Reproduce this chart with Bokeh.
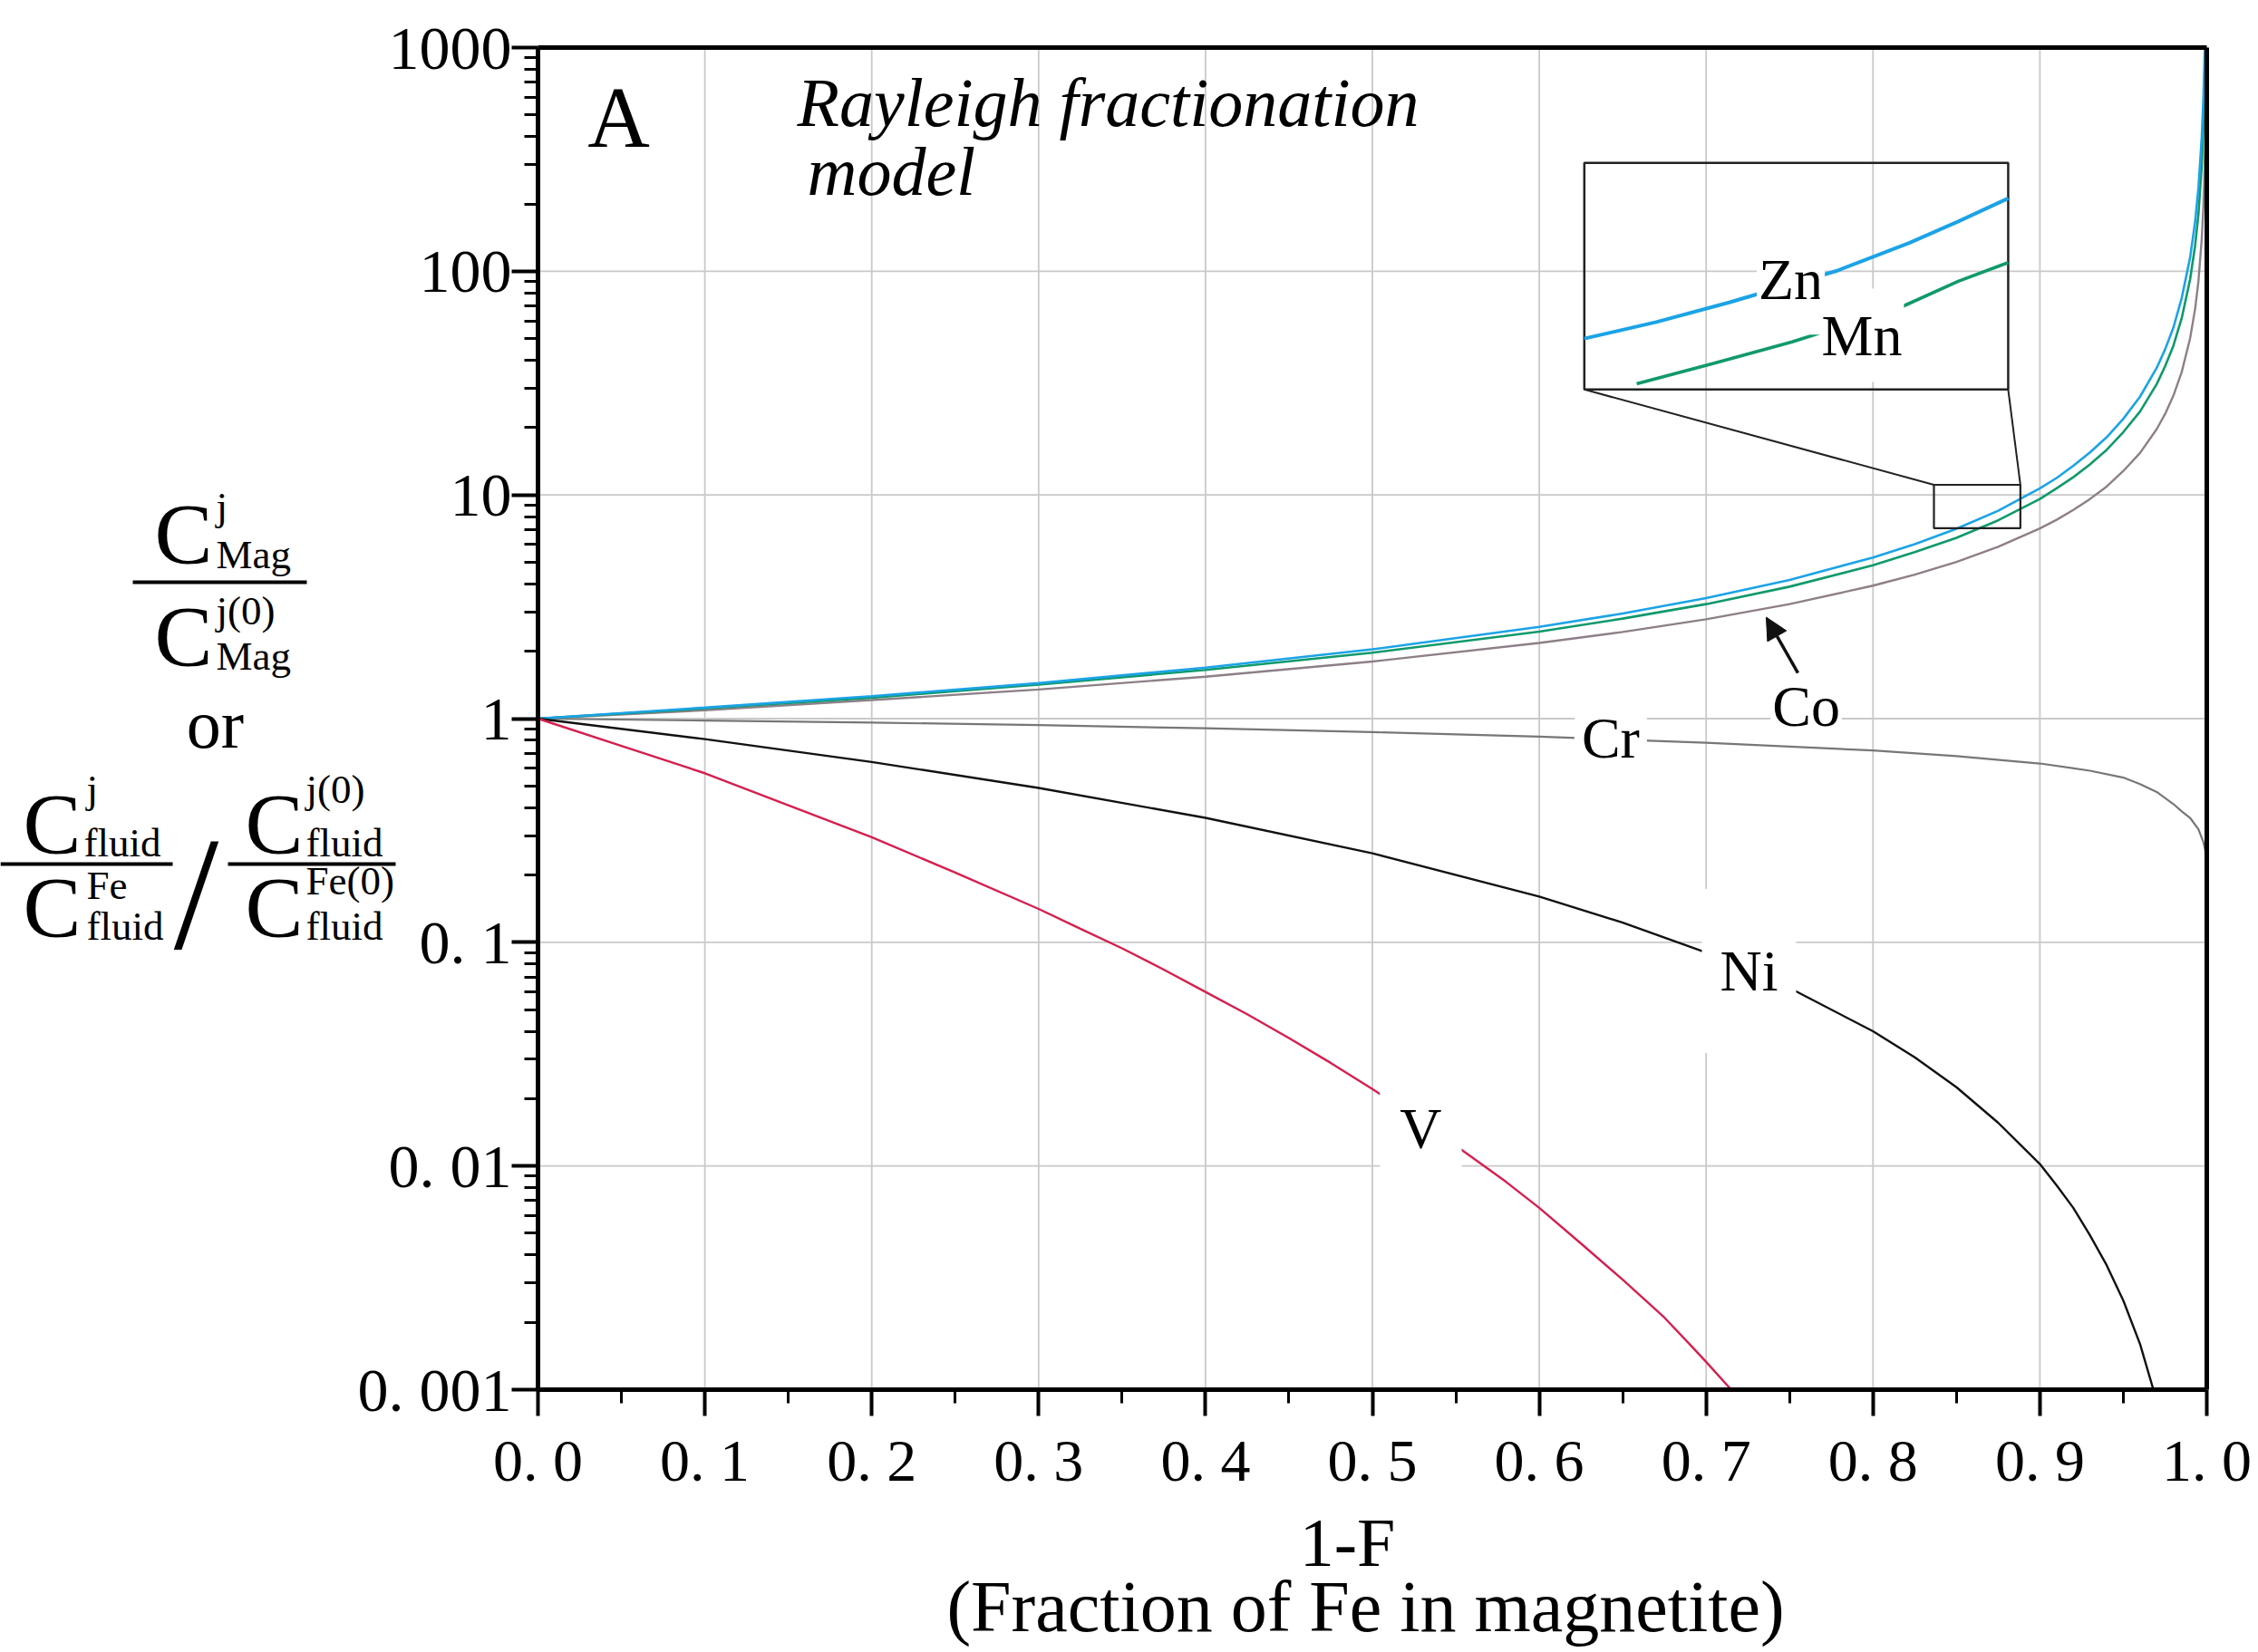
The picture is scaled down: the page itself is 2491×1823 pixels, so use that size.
import math
from bokeh.plotting import figure
from bokeh.models import (FixedTicker, Range1d, LogScale, Label, Arrow, NormalHead,
                          BoxAnnotation, LinearAxis, LogAxis)
from bokeh.embed import file_html
from bokeh.resources import INLINE

# ---------------- data ----------------
X_ZN = [0.0, 0.1, 0.2, 0.3, 0.4, 0.5, 0.6, 0.65, 0.7, 0.75, 0.8, 0.825, 0.85, 0.875, 0.9,
        0.91, 0.92, 0.93, 0.94, 0.95, 0.96, 0.97, 0.975, 0.98, 0.985, 0.99, 0.993, 0.995,
        0.997, 0.998, 0.9988]
ZN = [1.0, 1.12, 1.26, 1.44, 1.69, 2.04, 2.57, 2.95, 3.46, 4.17, 5.25, 6.02, 7.06, 8.5, 10.7,
      11.9, 13.5, 15.5, 18.1, 21.9, 27.5, 37.0, 44.7, 56.0, 76.0, 115.0, 166.0, 235.0,
      400.0, 600.0, 1000.0]

X_MN = [0.0, 0.1, 0.2, 0.3, 0.4, 0.5, 0.6, 0.65, 0.7, 0.75, 0.8, 0.825, 0.85, 0.875, 0.9,
        0.91, 0.92, 0.93, 0.94, 0.95, 0.96, 0.97, 0.975, 0.98, 0.985, 0.99, 0.993, 0.995,
        0.997, 0.998, 0.9991]
MN = [1.0, 1.11, 1.24, 1.42, 1.65, 1.97, 2.45, 2.80, 3.25, 3.89, 4.85, 5.55, 6.43, 7.7, 9.6,
      10.7, 12.0, 13.7, 15.9, 19.1, 23.6, 31.3, 37.6, 46.5, 61.8, 92.0, 130.0, 180.0,
      298.0, 440.0, 1000.0]

X_CO = [0.0, 0.1, 0.2, 0.3, 0.4, 0.5, 0.6, 0.65, 0.7, 0.75, 0.8, 0.825, 0.85, 0.875, 0.9,
        0.91, 0.92, 0.93, 0.94, 0.95, 0.96, 0.97, 0.975, 0.98, 0.985, 0.99, 0.993, 0.995,
        0.997, 0.998, 0.999, 0.9995, 0.9997]
CO = [1.0, 1.09, 1.21, 1.35, 1.54, 1.80, 2.18, 2.44, 2.78, 3.25, 3.93, 4.40, 5.02, 5.86, 7.08,
      7.74, 8.56, 9.59, 10.9, 12.8, 15.4, 19.7, 23.0, 27.8, 35.5, 50.1, 67.9, 90.3,
      140.0, 197.0, 355.0, 640.0, 1000.0]

X_CR = [0.0, 0.1, 0.2, 0.3, 0.4, 0.5, 0.6, 0.7, 0.8, 0.85, 0.9, 0.93, 0.95, 0.96, 0.97,
        0.98, 0.985, 0.99, 0.995, 0.998, 0.999, 0.9995, 0.9999, 1.0]
CR = [1.0, 0.98, 0.96, 0.935, 0.905, 0.87, 0.83, 0.78, 0.72, 0.68, 0.63, 0.585, 0.545,
      0.51, 0.47, 0.415, 0.385, 0.36, 0.32, 0.28, 0.26, 0.24, 0.21, 0.19]

X_NI = [0.0, 0.1, 0.2, 0.3, 0.4, 0.5, 0.6, 0.65, 0.7, 0.75, 0.8, 0.825, 0.85, 0.875, 0.9,
        0.91, 0.92, 0.93, 0.94, 0.95, 0.96, 0.968]
NI = [1.0, 0.81, 0.64, 0.49, 0.36, 0.25, 0.16, 0.1225, 0.09, 0.0625, 0.04, 0.0306, 0.0225,
      0.0156, 0.0102, 0.0082, 0.0065, 0.0049, 0.0036, 0.0025, 0.0016, 0.001]

X_V = [0.0, 0.05, 0.1, 0.15, 0.2, 0.25, 0.3, 0.325, 0.35, 0.375, 0.4, 0.425, 0.45, 0.475,
       0.5, 0.53, 0.56, 0.58, 0.6, 0.625, 0.65, 0.675, 0.69, 0.7, 0.715]
V = [1.0, 0.755, 0.57, 0.41, 0.295, 0.205, 0.141, 0.115, 0.094, 0.0755, 0.060, 0.0477,
     0.0373, 0.0289, 0.0221, 0.0157, 0.0109, 0.0085, 0.0065, 0.0045, 0.0031, 0.0021,
     0.0016, 0.00133, 0.001]

# magnified view (inset) of the Zn / Mn curves, in data coordinates of the zoom window
INSET_ZN_X = [0.8365, 0.8453, 0.8542, 0.8673, 0.8762, 0.8822, 0.8883]
INSET_ZN_Y = [7.85, 8.11, 8.43, 8.97, 9.48, 9.89, 10.35]
INSET_MN_X = [0.8429, 0.8524, 0.8619, 0.8750, 0.8822, 0.8883]
INSET_MN_Y = [7.18, 7.48, 7.80, 8.34, 8.79, 9.12]

X_TICKS = [0.0, 0.1, 0.2, 0.3, 0.4, 0.5, 0.6, 0.7, 0.8, 0.9, 1.0]
X_TICK_LABELS = ["0. 0", "0. 1", "0. 2", "0. 3", "0. 4", "0. 5", "0. 6", "0. 7",
                 "0. 8", "0. 9", "1. 0"]
Y_TICKS = [0.001, 0.01, 0.1, 1.0, 10.0, 100.0, 1000.0]
Y_TICK_LABELS = ["0. 001", "0. 01", "0. 1", "1", "10", "100", "1000"]

# ---------------- layout ----------------
CANVAS_W, CANVAS_H = 2491, 1823
BOX_L, BOX_T, BOX_W, BOX_H = 593, 52, 1841, 1481     # pixel box of the plotting area
Y_LO, Y_HI = 1e-3, 1e3
FONT = "Liberation Serif"
BASELINE_FIX = 0.365   # measured shift of the alphabetic baseline, in em

INSET_X = (0.627, 0.881)
INSET_Y = (29.6, 305.0)
WIN_X = (0.8365, 0.8883)
WIN_Y = (7.1, 11.1)

C_ZN = "#1ba3e6"
C_MN = "#10996c"
C_CO = "#8d7f88"
C_CR = "#777777"
C_NI = "#111111"
C_V = "#d51f4f"
C_GRID = "#c9c9c9"

lg = math.log10


def px2x(X):
    return (X - BOX_L) / BOX_W


def px2y(Y):
    return 10 ** (lg(Y_HI) - (lg(Y_HI) - lg(Y_LO)) * (Y - BOX_T) / BOX_H)


# the frame covers the whole canvas; the data box [0,1]x[1e-3,1e3] sits inside it
p = figure(width=CANVAS_W, height=CANVAS_H,
           x_range=Range1d(px2x(0), px2x(CANVAS_W)),
           y_range=Range1d(px2y(CANVAS_H), px2y(0)), y_axis_type="log",
           output_backend="svg", toolbar_location=None,
           min_border_left=0, min_border_right=0, min_border_top=0, min_border_bottom=0)
p.background_fill_color = "white"
p.border_fill_color = "white"
p.outline_line_color = None
p.xgrid.visible = False
p.ygrid.visible = False

# grid lines (drawn from the tick arrays)
gx = X_TICKS[1:-1]
gy = Y_TICKS[1:-1]
p.segment(x0=gx, y0=[Y_LO] * len(gx), x1=gx, y1=[Y_HI] * len(gx),
          line_color=C_GRID, line_width=1.8)
p.segment(x0=[0.0] * len(gy), y0=gy, x1=[1.0] * len(gy), y1=gy,
          line_color=C_GRID, line_width=1.8)

# axes, pinned to the data box
xa = p.xaxis[0]
ya = p.yaxis[0]
xa.fixed_location = Y_LO
ya.fixed_location = 0.0
xa.bounds = (0.0, 1.0)
ya.bounds = (Y_LO, Y_HI)
xa.ticker = FixedTicker(ticks=X_TICKS, minor_ticks=[0.05 + 0.1 * i for i in range(10)])
xa.major_label_overrides = dict(zip(X_TICKS, X_TICK_LABELS))
ya.ticker = FixedTicker(ticks=Y_TICKS,
                        minor_ticks=[m * 10.0 ** e for e in range(-3, 3) for m in range(2, 10)])
ya.major_label_overrides = dict(zip(Y_TICKS, Y_TICK_LABELS))
for ax in (xa, ya):
    ax.axis_line_width = 5
    ax.axis_line_color = "black"
    ax.major_tick_line_width = 4
    ax.minor_tick_line_width = 3
    ax.major_tick_in = 0
    ax.minor_tick_in = 0
    ax.major_tick_out = 29
    ax.minor_tick_out = 15
    ax.major_label_text_font = FONT
    ax.major_label_text_color = "black"
ya.major_label_text_font_size = "68px"
xa.major_label_text_font_size = "66px"
ya.major_label_standoff = 0
xa.major_label_standoff = 12

# closing top / right edges of the box
top_ax = LinearAxis(fixed_location=Y_HI, bounds=(0.0, 1.0), ticker=FixedTicker(ticks=[]),
                    axis_line_width=5, axis_line_color="black",
                    major_tick_line_color=None, minor_tick_line_color=None,
                    major_label_text_font_size="0px")
right_ax = LogAxis(fixed_location=1.0, bounds=(Y_LO, Y_HI), ticker=FixedTicker(ticks=[]),
                   axis_line_width=5, axis_line_color="black",
                   major_tick_line_color=None, minor_tick_line_color=None,
                   major_label_text_font_size="0px")
p.add_layout(top_ax, "above")
p.add_layout(right_ax, "right")

# curves
p.line(X_CR, CR, line_color=C_CR, line_width=2.2)
p.line(X_CO, CO, line_color=C_CO, line_width=2.4)
p.line(X_MN, MN, line_color=C_MN, line_width=2.6)
p.line(X_ZN, ZN, line_color=C_ZN, line_width=2.6)
p.line(X_NI, NI, line_color=C_NI, line_width=2.4)
p.line(X_V, V, line_color=C_V, line_width=2.4)

# inset: box, zoom window and connectors
p.quad(left=[INSET_X[0]], right=[INSET_X[1]], bottom=[INSET_Y[0]], top=[INSET_Y[1]],
       fill_color=None, line_color="#222222", line_width=2.5)
p.quad(left=[WIN_X[0]], right=[WIN_X[1]], bottom=[WIN_Y[0]], top=[WIN_Y[1]],
       fill_color=None, line_color="#222222", line_width=2.2)
p.segment(x0=[INSET_X[0], INSET_X[1]], y0=[INSET_Y[0], INSET_Y[0]],
          x1=[WIN_X[0], WIN_X[1]], y1=[WIN_Y[1], WIN_Y[1]],
          line_color="#222222", line_width=2)

# extra ranges that map the zoom window onto the inset box
xr0, xr1 = px2x(0), px2x(CANVAS_W)
yr0, yr1 = lg(px2y(CANVAS_H)), lg(px2y(0))
sx = (WIN_X[1] - WIN_X[0]) / (INSET_X[1] - INSET_X[0])
sy = (lg(WIN_Y[1]) - lg(WIN_Y[0])) / (lg(INSET_Y[1]) - lg(INSET_Y[0]))
p.extra_x_ranges = {"inset": Range1d(WIN_X[0] + (xr0 - INSET_X[0]) * sx,
                                     WIN_X[0] + (xr1 - INSET_X[0]) * sx)}
p.extra_y_ranges = {"inset": Range1d(10 ** (lg(WIN_Y[0]) + (yr0 - lg(INSET_Y[0])) * sy),
                                     10 ** (lg(WIN_Y[0]) + (yr1 - lg(INSET_Y[0])) * sy))}
p.extra_y_scales = {"inset": LogScale()}
p.line(INSET_ZN_X, INSET_ZN_Y, x_range_name="inset", y_range_name="inset",
       line_color=C_ZN, line_width=4)
p.line(INSET_MN_X, INSET_MN_Y, x_range_name="inset", y_range_name="inset",
       line_color=C_MN, line_width=3.6)


def add_label(text, x, y, size, align="center", baseline="middle", style="normal",
              bg=None, pad=0):
    kw = dict(x=x, y=y, text=text, text_font=FONT, text_font_size=f"{size}px",
              text_align=align, text_baseline=baseline, text_font_style=style,
              text_color="black")
    if bg is not None:
        kw.update(background_fill_color=bg, background_fill_alpha=1.0, padding=pad)
    p.add_layout(Label(**kw))


def add_px_label(text, X, Ybase, size, align="left", style="normal"):
    """Place text so that its baseline lands on pixel row Ybase."""
    add_label(text, px2x(X), px2y(Ybase - BASELINE_FIX * size), size, align=align,
              baseline="alphabetic", style=style)


def add_px_bar(X0, X1, Y, thick=4):
    p.add_layout(BoxAnnotation(left=px2x(X0), right=px2x(X1),
                               top=px2y(Y - thick / 2), bottom=px2y(Y + thick / 2),
                               fill_color="black", fill_alpha=1.0, line_color=None))


# curve labels (white background breaks lines & grid)
add_label("Cr", 0.6428, 0.817, 64, bg="white", pad=(8, 30))
add_label("Co", 0.760, 1.13, 64, bg="white", pad=(2, 4))
add_label("Ni", 0.7257, 0.0744, 64, bg="white", pad=(20, 55))
add_label("V", 0.529, 0.0147, 64, bg="white", pad=(22, 38))
add_label("Zn", 0.7507, 91.6, 64, bg="white", pad=(2, 25))
add_label("Mn", 0.7933, 51.7, 64, bg="white", pad=(2, 16))

p.add_layout(Arrow(end=NormalHead(size=24, fill_color="#111111", line_color="#111111"),
                   x_start=0.755, y_start=1.60, x_end=0.736, y_end=2.84,
                   line_width=3.5, line_color="#111111"))

# panel letter and model title
add_px_label("A", 682, 164, 95, align="center")
add_px_label("Rayleigh fractionation", 879, 140, 76, style="italic")
add_px_label("model", 890, 216, 76, style="italic")

# x-axis title
add_px_label("1-F", 1486, 1729, 76, align="center")
add_px_label("(Fraction of Fe in magnetite)", 1506, 1802, 80, align="center")

# y-axis title (stacked fractions)
BIG, SM = 96, 45
add_px_label("C", 202, 624, BIG, align="center")
add_px_label("j", 238, 575, SM)
add_px_label("Mag", 238, 628, SM)
add_px_bar(146, 338, 642)
add_px_label("C", 202, 737, BIG, align="center")
add_px_label("j(0)", 238, 690, SM)
add_px_label("Mag", 238, 740, SM)
add_px_label("or", 237, 826, 76, align="center")

add_px_label("C", 57, 944, BIG, align="center")
add_px_label("j", 95, 887, SM)
add_px_label("fluid", 92, 946, SM)
add_px_bar(0, 190, 953)
add_px_label("C", 57, 1036, BIG, align="center")
add_px_label("Fe", 95, 993, SM)
add_px_label("fluid", 95, 1038, SM)

add_px_label("/", 216, 1050, 178, align="center")

add_px_label("C", 302, 944, BIG, align="center")
add_px_label("j(0)", 337, 887, SM)
add_px_label("fluid", 337, 946, SM)
add_px_bar(251, 436, 953)
add_px_label("C", 302, 1036, BIG, align="center")
add_px_label("Fe(0)", 337, 988, SM)
add_px_label("fluid", 337, 1038, SM)

open("out.html", "w").write(file_html(p, INLINE))
